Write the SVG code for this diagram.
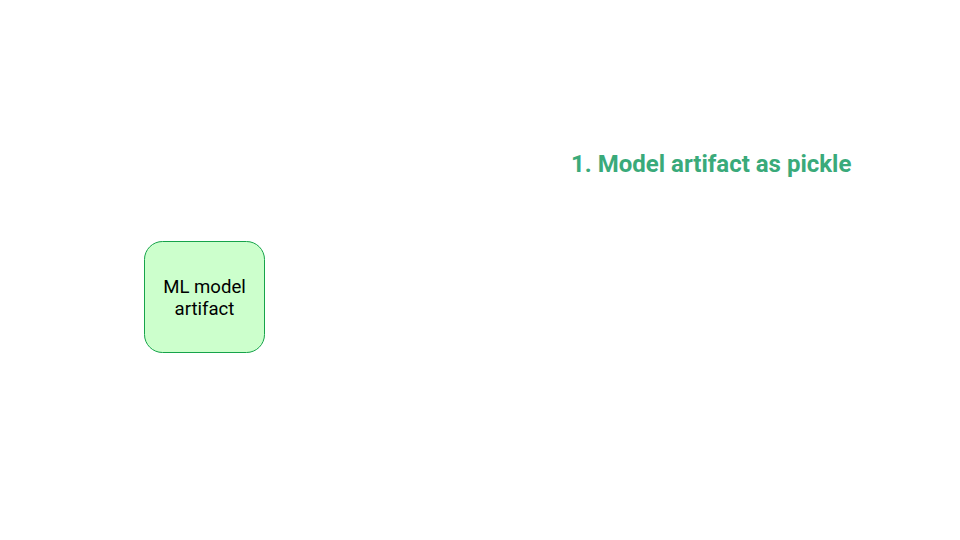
<svg xmlns="http://www.w3.org/2000/svg" width="960" height="540" viewBox="0 0 960 540">
<style>
.node{fill:#ccffcc;stroke:#16a34a;stroke-width:1}
.lbl{font-family:Roboto,"Liberation Sans",sans-serif;font-size:18.6px;fill:#000;text-anchor:middle}
.title{font-family:Roboto,"Liberation Sans",sans-serif;font-size:24px;font-weight:bold;fill:#3aaa7a}
</style>
<rect width="960" height="540" fill="#fff"/>
<g id="title"><text class="title" x="571" y="172">1. Model artifact as pickle</text></g>
<g id="connectors"></g>
<g id="ml-model-artifact">
<rect class="node" x="144.5" y="241.5" width="120" height="111" rx="18"/>
<text class="lbl" x="204.5" y="293">ML model</text>
<text class="lbl" x="204.5" y="315">artifact</text>
</g>
</svg>
